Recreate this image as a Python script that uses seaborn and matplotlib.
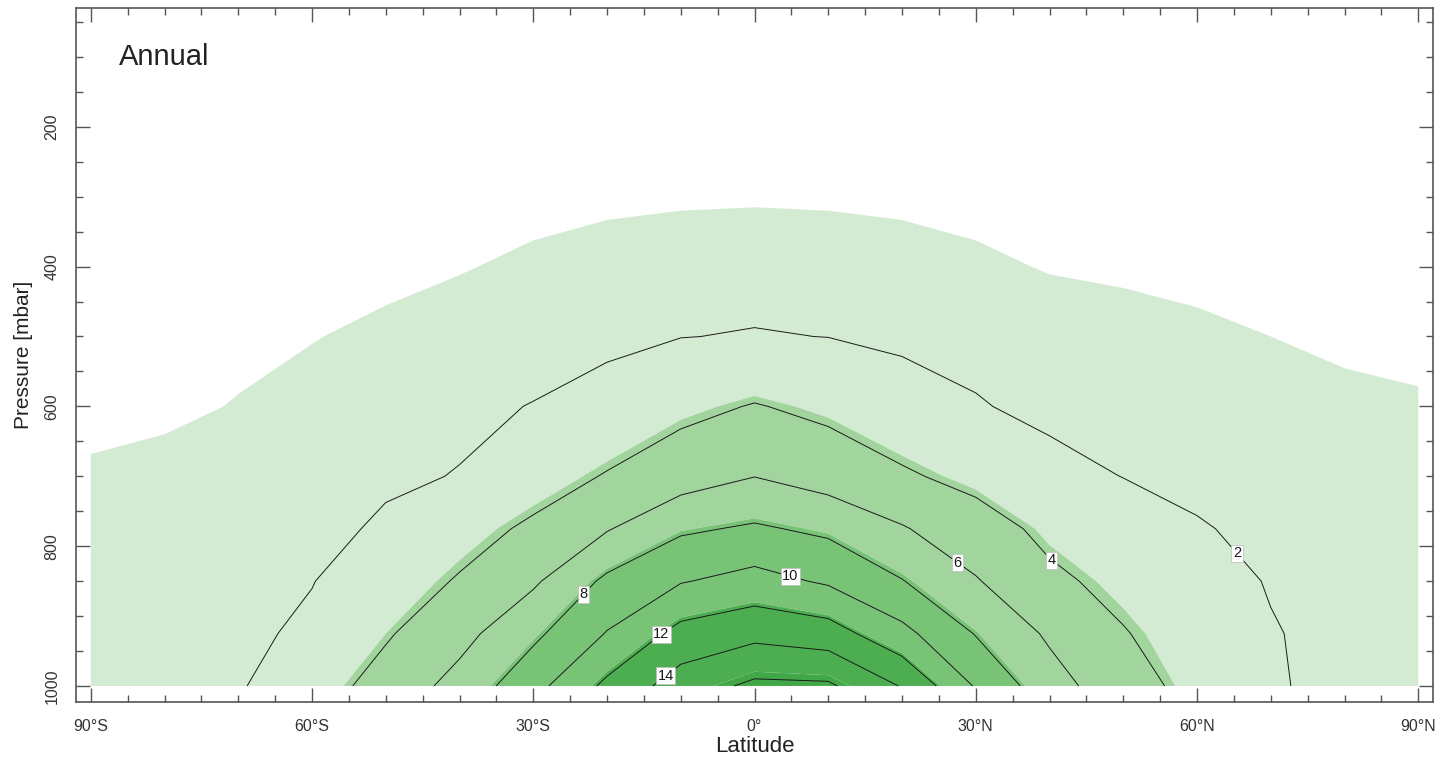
import numpy as np
import pandas as pd
import matplotlib
matplotlib.use('Agg')
import matplotlib.pyplot as plt
import seaborn as sns

sns.set_style('white')
plt.rcParams['font.family'] = ['Liberation Sans', 'DejaVu Sans']

# zonal mean specific humidity (g/kg)
lats = [-90, -80, -70, -60, -50, -40, -30, -20, -10, 0, 10, 20, 30, 40, 50, 60, 70, 80, 90]
levels_p = [1000, 925, 850, 775, 700, 600, 500, 400, 300, 200]

q_1000 = [1.4, 1.6, 1.85, 3.1, 4.73, 6.67, 9.35, 12.43, 14.96, 16.4, 16.3, 13.88, 9.83, 6.8, 4.78, 3.39, 2.15, 1.6, 1.5]
q_925 = [1.35, 1.5, 1.65, 2.3, 3.8, 5.37, 7.58, 10.1, 12.64, 13.46, 12.9, 10.56, 7.9, 5.7, 4.1, 3.1, 2.1, 1.55, 1.48]
q_850 = [1.3, 1.45, 1.55, 1.95, 3.02, 4.15, 5.7, 8.4, 9.88, 10.68, 9.74, 8.08, 6.14, 4.35, 3.48, 2.67, 1.9, 1.5, 1.45]
q_775 = [1.2, 1.35, 1.45, 1.6, 2.2, 3.27, 4.31, 5.86, 7.7, 8.25, 7.6, 6.15, 4.81, 3.55, 2.89, 2.1, 1.7, 1.45, 1.38]
q_700 = [1.07, 1.18, 1.3, 1.5, 1.8, 2.05, 3.14, 4.12, 5.05, 5.97, 5.11, 4.24, 3.46, 2.55, 1.97, 1.7, 1.5, 1.32, 1.25]
q_600 = [0.85, 0.88, 1.03, 1.25, 1.5, 1.75, 2.04, 2.6, 3.5, 4.1, 3.55, 2.75, 2.12, 1.6, 1.5, 1.35, 1.22, 1.12, 1.06]
q_500 = [0.7, 0.78, 0.86, 0.97, 1.16, 1.36, 1.5, 1.65, 1.97, 2.08, 1.98, 1.7, 1.5, 1.4, 1.34, 1.18, 1.0, 0.9, 0.85]
q_400 = [0.5, 0.55, 0.6, 0.7, 0.8, 0.95, 1.15, 1.3, 1.4, 1.45, 1.4, 1.3, 1.15, 0.95, 0.85, 0.75, 0.7, 0.65, 0.6]
q_300 = [0.3, 0.32, 0.35, 0.4, 0.5, 0.6, 0.75, 0.85, 0.9, 0.92, 0.9, 0.85, 0.75, 0.6, 0.5, 0.45, 0.4, 0.35, 0.35]
q_200 = [0.08, 0.09, 0.1, 0.12, 0.15, 0.2, 0.25, 0.3, 0.33, 0.35, 0.33, 0.3, 0.25, 0.2, 0.15, 0.13, 0.11, 0.1, 0.1]

fill_levels = [1, 3.8, 7.8, 11.8, 15.6, 20]
fill_colors = ['#d3ebd2', '#a2d59e', '#79c377', '#4cae50', '#42a747']
line_levels = [2, 4, 6, 8, 10, 12, 14, 16]
label_spots = [(65, 813), (40, 823), (27.5, 824), (-22.5, 874), (5.2, 834), (-12.5, 927), (-12.5, 981)]

x_ticks = [-90, -60, -30, 0, 30, 60, 90]
x_ticklabels = ['90°S', '60°S', '30°S', '0°', '30°N', '60°N', '90°N']
y_ticks = [200, 400, 600, 800, 1000]

df = pd.DataFrame([q_1000, q_925, q_850, q_775, q_700, q_600, q_500, q_400, q_300, q_200],
                  index=levels_p, columns=lats)
X, Y = np.meshgrid(df.columns.values, df.index.values)
Z = df.values

fig = plt.figure(figsize=(14.45, 7.62), dpi=100)
ax = fig.add_axes([0.0526, 0.0787, 0.9391, 0.9108])

ax.contourf(X, Y, Z, levels=fill_levels, colors=fill_colors, antialiased=True)
cs = ax.contour(X, Y, Z, levels=line_levels, colors='#1a1a1a', linewidths=0.7)
lbls = ax.clabel(cs, levels=line_levels[:-1], manual=label_spots, fmt='%d', fontsize=10.5,
                 inline=True, inline_spacing=2)
for t in lbls:
    t.set_rotation(0)
    t.set_bbox(dict(facecolor='white', edgecolor='#bbbbbb', linewidth=0.5, pad=1.0))

ax.set_xlim(-92, 92)
ax.set_ylim(1023, 30)
ax.set_xticks(x_ticks)
ax.set_xticklabels(x_ticklabels)
ax.set_xticks(np.arange(-90, 91, 5), minor=True)
ax.set_yticks(y_ticks)
ax.set_yticklabels([str(v) for v in y_ticks], rotation=90, va='center')
ax.set_yticks(np.arange(50, 1001, 50), minor=True)

ax.tick_params(which='both', direction='in', bottom=True, left=True, top=True, right=True,
               color='#555555', width=1)
ax.tick_params(which='major', length=10)
ax.tick_params(which='minor', length=5)
ax.tick_params(axis='x', which='major', pad=12, labelsize=11.5, labelcolor='#333333')
ax.tick_params(axis='y', which='major', pad=12, labelsize=11.5, labelcolor='#333333')
for s in ax.spines.values():
    s.set_color('#555555')
    s.set_linewidth(1.2)

ax.set_xlabel('Latitude', fontsize=16, color='#222222', labelpad=2)
ax.set_ylabel('Pressure [mbar]', fontsize=15, color='#222222', labelpad=8)
ax.text(0.032, 0.93, 'Annual', transform=ax.transAxes, fontsize=21, color='#222222',
        ha='left', va='center')

fig.savefig('out.png', dpi=100)
